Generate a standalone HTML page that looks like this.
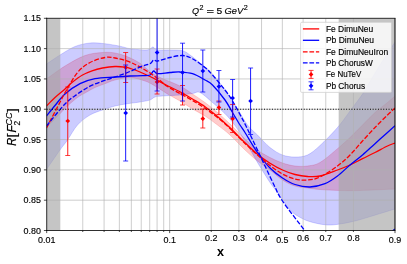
<!DOCTYPE html>
<html><head><meta charset="utf-8"><title>chart</title><style>html,body{margin:0;padding:0;background:#fff;overflow:hidden}body{width:407px;height:264px;position:relative;font-family:"Liberation Sans",sans-serif}</style></head><body>
<svg width="407" height="264" viewBox="0 0 407 264" style="display:block;position:absolute;left:0;top:0" font-family="'Liberation Sans', sans-serif">
<defs><filter id="gs" x="0" y="0" width="407" height="264" filterUnits="userSpaceOnUse" color-interpolation-filters="sRGB"><feColorMatrix type="saturate" values="0"/></filter><clipPath id="ax"><rect x="46.70" y="18.30" width="348.30" height="212.20"/></clipPath></defs>
<rect width="407" height="264" fill="#fff"/>
<g clip-path="url(#ax)">
<path d="M46.50,79.00 C49.58,76.83 58.58,69.92 65.00,66.00 C71.42,62.08 78.75,57.75 85.00,55.50 C91.25,53.25 97.50,52.92 102.50,52.50 C107.50,52.08 110.83,52.28 115.00,53.00 C119.17,53.72 123.33,55.08 127.50,56.80 C131.67,58.52 135.42,60.27 140.00,63.30 C144.58,66.33 148.33,71.22 155.00,75.00 C161.67,78.78 173.75,82.83 180.00,86.00 C186.25,89.17 188.33,91.25 192.50,94.00 C196.67,96.75 200.83,99.42 205.00,102.50 C209.17,105.58 213.33,108.92 217.50,112.50 C221.67,116.08 225.42,119.58 230.00,124.00 C234.58,128.42 240.42,134.67 245.00,139.00 C249.58,143.33 253.33,146.92 257.50,150.00 C261.67,153.08 265.83,155.33 270.00,157.50 C274.17,159.67 278.33,161.58 282.50,163.00 C286.67,164.42 290.83,165.50 295.00,166.00 C299.17,166.50 303.33,166.58 307.50,166.00 C311.67,165.42 315.00,165.38 320.00,162.50 C325.00,159.62 332.50,152.87 337.50,148.70 C342.50,144.53 345.83,141.45 350.00,137.50 C354.17,133.55 358.33,129.17 362.50,125.00 C366.67,120.83 370.83,116.25 375.00,112.50 C379.17,108.75 384.17,105.25 387.50,102.50 C390.83,99.75 393.75,97.08 395.00,96.00 L395.00,189.00 C389.17,189.25 369.17,190.25 360.00,190.50 C350.83,190.75 346.67,190.67 340.00,190.50 C333.33,190.33 325.42,189.92 320.00,189.50 C314.58,189.08 311.67,188.58 307.50,188.00 C303.33,187.42 299.17,187.33 295.00,186.00 C290.83,184.67 286.67,182.67 282.50,180.00 C278.33,177.33 274.17,173.17 270.00,170.00 C265.83,166.83 261.67,164.33 257.50,161.00 C253.33,157.67 249.58,154.33 245.00,150.00 C240.42,145.67 234.58,139.17 230.00,135.00 C225.42,130.83 221.67,128.17 217.50,125.00 C213.33,121.83 209.17,118.67 205.00,116.00 C200.83,113.33 196.67,111.50 192.50,109.00 C188.33,106.50 184.17,103.50 180.00,101.00 C175.83,98.50 171.67,96.50 167.50,94.00 C163.33,91.50 158.75,88.17 155.00,86.00 C151.25,83.83 149.17,82.42 145.00,81.00 C140.83,79.58 135.00,77.67 130.00,77.50 C125.00,77.33 119.17,78.97 115.00,80.00 C110.83,81.03 108.33,82.45 105.00,83.70 C101.67,84.95 98.33,85.95 95.00,87.50 C91.67,89.05 87.92,91.33 85.00,93.00 C82.08,94.67 80.42,95.33 77.50,97.50 C74.58,99.67 70.42,103.30 67.50,106.00 C64.58,108.70 63.50,110.12 60.00,113.70 C56.50,117.28 48.75,125.20 46.50,127.50 Z" fill="#ff0000" fill-opacity="0.2" stroke="#ff0000" stroke-opacity="0.2" stroke-width="0.80"/>
<path d="M46.50,64.00 C48.75,62.50 55.25,57.92 60.00,55.00 C64.75,52.08 70.00,48.50 75.00,46.50 C80.00,44.50 85.00,43.47 90.00,43.00 C95.00,42.53 100.00,43.17 105.00,43.70 C110.00,44.23 115.83,45.37 120.00,46.20 C124.17,47.03 125.83,48.07 130.00,48.70 C134.17,49.33 141.67,49.95 145.00,50.00 C148.33,50.05 148.67,49.50 150.00,49.00 C151.33,48.50 151.75,46.83 153.00,47.00 C154.25,47.17 154.67,49.50 157.50,50.00 C160.33,50.50 165.83,49.88 170.00,50.00 C174.17,50.12 179.17,49.87 182.50,50.70 C185.83,51.53 186.67,52.62 190.00,55.00 C193.33,57.38 198.75,61.83 202.50,65.00 C206.25,68.17 208.75,69.83 212.50,74.00 C216.25,78.17 220.83,84.22 225.00,90.00 C229.17,95.78 233.75,102.87 237.50,108.70 C241.25,114.53 244.17,120.62 247.50,125.00 C250.83,129.38 253.75,131.25 257.50,135.00 C261.25,138.75 265.83,144.17 270.00,147.50 C274.17,150.83 278.33,153.42 282.50,155.00 C286.67,156.58 290.83,157.00 295.00,157.00 C299.17,157.00 303.33,156.92 307.50,155.00 C311.67,153.08 315.00,150.08 320.00,145.50 C325.00,140.92 332.50,133.25 337.50,127.50 C342.50,121.75 346.25,116.00 350.00,111.00 C353.75,106.00 357.50,101.00 360.00,97.50 C362.50,94.00 361.67,95.42 365.00,90.00 C368.33,84.58 375.00,73.00 380.00,65.00 C385.00,57.00 392.50,45.83 395.00,42.00 L395.00,209.00 C392.83,209.67 388.33,211.08 382.00,213.00 C375.67,214.92 364.00,218.67 357.00,220.50 C350.00,222.33 344.92,223.25 340.00,224.00 C335.08,224.75 331.67,225.17 327.50,225.00 C323.33,224.83 319.17,224.05 315.00,223.00 C310.83,221.95 306.67,220.87 302.50,218.70 C298.33,216.53 294.17,214.37 290.00,210.00 C285.83,205.63 280.83,197.08 277.50,192.50 C274.17,187.92 273.33,187.50 270.00,182.50 C266.67,177.50 261.25,168.75 257.50,162.50 C253.75,156.25 251.25,151.17 247.50,145.00 C243.75,138.83 238.75,130.72 235.00,125.50 C231.25,120.28 228.75,117.53 225.00,113.70 C221.25,109.87 216.67,106.03 212.50,102.50 C208.33,98.97 203.33,94.00 200.00,92.50 C196.67,91.00 195.83,93.08 192.50,93.50 C189.17,93.92 185.00,94.58 180.00,95.00 C175.00,95.42 166.67,95.67 162.50,96.00 C158.33,96.33 157.08,96.33 155.00,97.00 C152.92,97.67 152.50,99.17 150.00,100.00 C147.50,100.83 143.75,101.38 140.00,102.00 C136.25,102.62 131.67,103.03 127.50,103.70 C123.33,104.37 119.17,104.95 115.00,106.00 C110.83,107.05 106.67,108.50 102.50,110.00 C98.33,111.50 94.17,112.50 90.00,115.00 C85.83,117.50 81.25,120.83 77.50,125.00 C73.75,129.17 70.42,135.83 67.50,140.00 C64.58,144.17 63.50,145.08 60.00,150.00 C56.50,154.92 48.75,166.25 46.50,169.50 Z" fill="#0000ff" fill-opacity="0.2" stroke="#0000ff" stroke-opacity="0.2" stroke-width="0.80"/>
<rect x="46.70" y="18.30" width="13.61" height="212.20" fill="#a7a7a7" fill-opacity="0.66"/>
<rect x="338.67" y="18.30" width="56.33" height="212.20" fill="#a7a7a7" fill-opacity="0.66"/>
<path d="M46.70,18.30V230.50M82.76,18.30V230.50M104.08,18.30V230.50M119.36,18.30V230.50M131.34,18.30V230.50M141.24,18.30V230.50M149.69,18.30V230.50M157.09,18.30V230.50M163.69,18.30V230.50M169.66,18.30V230.50M211.24,18.30V230.50M238.88,18.30V230.50M261.54,18.30V230.50M282.33,18.30V230.50M303.12,18.30V230.50M325.78,18.30V230.50M353.42,18.30V230.50M395.00,18.30V230.50M46.70,230.50H395.00M46.70,200.19H395.00M46.70,169.87H395.00M46.70,139.56H395.00M46.70,109.24H395.00M46.70,78.93H395.00M46.70,48.61H395.00M46.70,18.30H395.00" stroke="#b0b0b0" stroke-width="0.62" fill="none"/>
<path d="M46.50,106.00 C47.92,104.58 51.92,100.33 55.00,97.50 C58.08,94.67 62.17,91.50 65.00,89.00 C67.83,86.50 69.08,84.83 72.00,82.50 C74.92,80.17 79.17,76.95 82.50,75.00 C85.83,73.05 88.67,71.97 92.00,70.80 C95.33,69.63 98.67,68.72 102.50,68.00 C106.33,67.28 111.25,66.63 115.00,66.50 C118.75,66.37 122.17,66.78 125.00,67.20 C127.83,67.62 129.50,68.20 132.00,69.00 C134.50,69.80 137.00,70.75 140.00,72.00 C143.00,73.25 147.08,75.12 150.00,76.50 C152.92,77.88 154.50,78.72 157.50,80.30 C160.50,81.88 164.25,84.08 168.00,86.00 C171.75,87.92 175.92,89.63 180.00,91.80 C184.08,93.97 188.33,96.52 192.50,99.00 C196.67,101.48 200.83,103.78 205.00,106.70 C209.17,109.62 213.33,112.98 217.50,116.50 C221.67,120.02 225.42,123.42 230.00,127.80 C234.58,132.18 240.42,138.40 245.00,142.80 C249.58,147.20 253.33,150.80 257.50,154.20 C261.67,157.60 265.83,160.57 270.00,163.20 C274.17,165.83 278.33,168.12 282.50,170.00 C286.67,171.88 290.83,173.42 295.00,174.50 C299.17,175.58 303.33,176.25 307.50,176.50 C311.67,176.75 315.00,177.08 320.00,176.00 C325.00,174.92 332.50,171.83 337.50,170.00 C342.50,168.17 345.83,166.88 350.00,165.00 C354.17,163.12 358.33,160.78 362.50,158.70 C366.67,156.62 370.83,154.62 375.00,152.50 C379.17,150.38 384.17,147.58 387.50,146.00 C390.83,144.42 393.75,143.50 395.00,143.00" stroke="#ff0000" stroke-width="1.30" fill="none"/>
<path d="M46.50,116.00 C47.92,114.25 51.92,109.17 55.00,105.50 C58.08,101.83 60.83,97.63 65.00,94.00 C69.17,90.37 75.00,86.25 80.00,83.70 C85.00,81.15 89.17,79.82 95.00,78.70 C100.83,77.58 109.17,77.45 115.00,77.00 C120.83,76.55 125.42,76.22 130.00,76.00 C134.58,75.78 139.17,75.87 142.50,75.70 C145.83,75.53 148.13,75.78 150.00,75.00 C151.87,74.22 152.45,71.22 153.70,71.00 C154.95,70.78 154.78,73.45 157.50,73.70 C160.22,73.95 166.25,72.78 170.00,72.50 C173.75,72.22 176.25,71.80 180.00,72.00 C183.75,72.20 188.33,72.37 192.50,73.70 C196.67,75.03 201.67,78.12 205.00,80.00 C208.33,81.88 209.17,81.67 212.50,85.00 C215.83,88.33 221.67,95.42 225.00,100.00 C228.33,104.58 230.00,108.33 232.50,112.50 C235.00,116.67 237.92,121.67 240.00,125.00 C242.08,128.33 242.08,127.92 245.00,132.50 C247.92,137.08 253.33,146.58 257.50,152.50 C261.67,158.42 265.83,163.75 270.00,168.00 C274.17,172.25 278.33,175.25 282.50,178.00 C286.67,180.75 290.42,183.00 295.00,184.50 C299.58,186.00 305.00,187.13 310.00,187.00 C315.00,186.87 320.42,185.53 325.00,183.70 C329.58,181.87 333.33,179.12 337.50,176.00 C341.67,172.88 345.83,168.50 350.00,165.00 C354.17,161.50 358.33,158.55 362.50,155.00 C366.67,151.45 370.83,147.45 375.00,143.70 C379.17,139.95 384.17,135.50 387.50,132.50 C390.83,129.50 393.75,126.83 395.00,125.70" stroke="#0000ff" stroke-width="1.30" fill="none"/>
<path d="M46.50,128.00 C48.42,124.33 54.75,112.17 58.00,106.00 C61.25,99.83 62.75,96.58 66.00,91.00 C69.25,85.42 73.50,77.25 77.50,72.50 C81.50,67.75 85.42,65.00 90.00,62.50 C94.58,60.00 100.83,58.25 105.00,57.50 C109.17,56.75 111.25,57.38 115.00,58.00 C118.75,58.62 123.33,59.70 127.50,61.20 C131.67,62.70 135.42,64.45 140.00,67.00 C144.58,69.55 150.42,73.25 155.00,76.50 C159.58,79.75 163.33,83.67 167.50,86.50 C171.67,89.33 175.83,91.17 180.00,93.50 C184.17,95.83 188.33,98.03 192.50,100.50 C196.67,102.97 200.83,105.47 205.00,108.30 C209.17,111.13 213.33,114.13 217.50,117.50 C221.67,120.87 225.42,124.17 230.00,128.50 C234.58,132.83 240.42,139.08 245.00,143.50 C249.58,147.92 253.33,151.33 257.50,155.00 C261.67,158.67 265.83,162.33 270.00,165.50 C274.17,168.67 278.33,171.75 282.50,174.00 C286.67,176.25 290.83,178.00 295.00,179.00 C299.17,180.00 303.33,180.33 307.50,180.00 C311.67,179.67 315.00,179.33 320.00,177.00 C325.00,174.67 332.50,169.67 337.50,166.00 C342.50,162.33 345.83,159.17 350.00,155.00 C354.17,150.83 358.33,145.58 362.50,141.00 C366.67,136.42 370.83,131.83 375.00,127.50 C379.17,123.17 384.17,118.25 387.50,115.00 C390.83,111.75 393.75,109.17 395.00,108.00" stroke="#ff0000" stroke-width="1.30" fill="none" stroke-dasharray="4.7,1.8"/>
<path d="M46.50,126.00 C49.58,122.33 59.83,109.33 65.00,104.00 C70.17,98.67 73.33,96.97 77.50,94.00 C81.67,91.03 85.83,88.33 90.00,86.20 C94.17,84.07 98.33,82.73 102.50,81.20 C106.67,79.67 110.83,78.45 115.00,77.00 C119.17,75.55 122.92,74.33 127.50,72.50 C132.08,70.67 138.75,67.47 142.50,66.00 C146.25,64.53 148.13,64.70 150.00,63.70 C151.87,62.70 152.45,60.45 153.70,60.00 C154.95,59.55 154.78,61.42 157.50,61.00 C160.22,60.58 165.83,58.42 170.00,57.50 C174.17,56.58 178.75,55.30 182.50,55.50 C186.25,55.70 188.75,56.70 192.50,58.70 C196.25,60.70 201.67,64.78 205.00,67.50 C208.33,70.22 209.17,71.25 212.50,75.00 C215.83,78.75 221.67,85.67 225.00,90.00 C228.33,94.33 230.00,96.92 232.50,101.00 C235.00,105.08 237.75,110.33 240.00,114.50 C242.25,118.67 243.08,120.08 246.00,126.00 C248.92,131.92 252.83,140.17 257.50,150.00 C262.17,159.83 269.83,176.50 274.00,185.00 C278.17,193.50 277.33,193.33 282.50,201.00 C287.67,208.67 300.42,224.83 305.00,231.00 C309.58,237.17 309.17,236.83 310.00,238.00" stroke="#0000ff" stroke-width="1.30" fill="none" stroke-dasharray="4.7,1.8"/>
<path d="M46.70,109.24H395.00" stroke="#000" stroke-width="1.0" stroke-dasharray="1,1.65" fill="none"/>
<path d="M394.3,228.6L396.9,231.2L394.3,233.8L391.7,231.2Z" fill="#0000c8"/>
<path d="M67.75,87.00V155.50" stroke="#ff0000" stroke-width="0.90" fill="none"/><path d="M65.25,87.00H70.25 M65.25,155.50H70.25" stroke="#ff0000" stroke-width="0.75" fill="none"/><path d="M67.75,118.65L70.10,121.00L67.75,123.35L65.40,121.00Z" fill="#ff0000"/>
<path d="M125.67,52.50V82.50" stroke="#ff0000" stroke-width="0.90" fill="none"/><path d="M123.17,52.50H128.17 M123.17,82.50H128.17" stroke="#ff0000" stroke-width="0.75" fill="none"/><path d="M125.67,65.15L128.02,67.50L125.67,69.85L123.32,67.50Z" fill="#ff0000"/>
<path d="M157.09,69.00V94.00" stroke="#ff0000" stroke-width="0.90" fill="none"/><path d="M154.59,69.00H159.59 M154.59,94.00H159.59" stroke="#ff0000" stroke-width="0.75" fill="none"/><path d="M157.09,79.65L159.44,82.00L157.09,84.35L154.74,82.00Z" fill="#ff0000"/>
<path d="M182.55,85.50V105.00" stroke="#ff0000" stroke-width="0.90" fill="none"/><path d="M180.05,85.50H185.05 M180.05,105.00H185.05" stroke="#ff0000" stroke-width="0.75" fill="none"/><path d="M182.55,91.65L184.90,94.00L182.55,96.35L180.20,94.00Z" fill="#ff0000"/>
<path d="M202.82,109.00V128.00" stroke="#ff0000" stroke-width="0.90" fill="none"/><path d="M200.32,109.00H205.32 M200.32,128.00H205.32" stroke="#ff0000" stroke-width="0.75" fill="none"/><path d="M202.82,116.35L205.17,118.70L202.82,121.05L200.47,118.70Z" fill="#ff0000"/>
<path d="M218.91,101.00V114.50" stroke="#ff0000" stroke-width="0.90" fill="none"/><path d="M216.41,101.00H221.41 M216.41,114.50H221.41" stroke="#ff0000" stroke-width="0.75" fill="none"/><path d="M218.91,105.15L221.26,107.50L218.91,109.85L216.56,107.50Z" fill="#ff0000"/>
<path d="M232.62,104.50V132.50" stroke="#ff0000" stroke-width="0.90" fill="none"/><path d="M230.12,104.50H235.12 M230.12,132.50H235.12" stroke="#ff0000" stroke-width="0.75" fill="none"/><path d="M232.62,116.35L234.97,118.70L232.62,121.05L230.27,118.70Z" fill="#ff0000"/>
<path d="M125.67,65.00V161.00" stroke="#0000ff" stroke-width="0.90" fill="none"/><path d="M123.17,65.00H128.17 M123.17,161.00H128.17" stroke="#0000ff" stroke-width="0.75" fill="none"/><path d="M125.67,110.65L128.02,113.00L125.67,115.35L123.32,113.00Z" fill="#0000ff"/>
<path d="M157.09,5.00V91.00" stroke="#0000ff" stroke-width="0.90" fill="none"/><path d="M154.59,5.00H159.59 M154.59,91.00H159.59" stroke="#0000ff" stroke-width="0.75" fill="none"/><path d="M157.09,50.15L159.44,52.50L157.09,54.85L154.74,52.50Z" fill="#0000ff"/>
<path d="M182.55,43.20V101.00" stroke="#0000ff" stroke-width="0.90" fill="none"/><path d="M180.05,43.20H185.05 M180.05,101.00H185.05" stroke="#0000ff" stroke-width="0.75" fill="none"/><path d="M182.55,70.15L184.90,72.50L182.55,74.85L180.20,72.50Z" fill="#0000ff"/>
<path d="M202.82,50.00V92.00" stroke="#0000ff" stroke-width="0.90" fill="none"/><path d="M200.32,50.00H205.32 M200.32,92.00H205.32" stroke="#0000ff" stroke-width="0.75" fill="none"/><path d="M202.82,68.65L205.17,71.00L202.82,73.35L200.47,71.00Z" fill="#0000ff"/>
<path d="M218.91,70.50V102.00" stroke="#0000ff" stroke-width="0.90" fill="none"/><path d="M216.41,70.50H221.41 M216.41,102.00H221.41" stroke="#0000ff" stroke-width="0.75" fill="none"/><path d="M218.91,84.15L221.26,86.50L218.91,88.85L216.56,86.50Z" fill="#0000ff"/>
<path d="M232.62,79.50V117.00" stroke="#0000ff" stroke-width="0.90" fill="none"/><path d="M230.12,79.50H235.12 M230.12,117.00H235.12" stroke="#0000ff" stroke-width="0.75" fill="none"/><path d="M232.62,95.65L234.97,98.00L232.62,100.35L230.27,98.00Z" fill="#0000ff"/>
<path d="M250.59,68.00V134.50" stroke="#0000ff" stroke-width="0.90" fill="none"/><path d="M248.09,68.00H253.09 M248.09,134.50H253.09" stroke="#0000ff" stroke-width="0.75" fill="none"/><path d="M250.59,98.65L252.94,101.00L250.59,103.35L248.24,101.00Z" fill="#0000ff"/>
</g>
<path d="M46.70,18.30H395.00 M46.70,230.50H395.00 M46.70,18.30V230.50" stroke="#000" stroke-width="0.8" fill="none" stroke-linecap="square"/>
<path d="M395.00,18.30V230.50" stroke="#000" stroke-width="1.0" fill="none"/>
<path d="M46.70,230.50v2.60M82.76,230.50v1.50M104.08,230.50v1.50M119.36,230.50v1.50M131.34,230.50v1.50M141.24,230.50v1.50M149.69,230.50v1.50M157.09,230.50v1.50M163.69,230.50v1.50M169.66,230.50v2.60M211.24,230.50v1.50M238.88,230.50v1.50M261.54,230.50v1.50M282.33,230.50v2.60M303.12,230.50v1.50M325.78,230.50v1.50M353.42,230.50v1.50M395.00,230.50v2.60M46.70,230.50h-2.8M46.70,200.19h-2.8M46.70,169.87h-2.8M46.70,139.56h-2.8M46.70,109.24h-2.8M46.70,78.93h-2.8M46.70,48.61h-2.8M46.70,18.30h-2.8" stroke="#000" stroke-width="0.7" fill="none"/>
<g filter="url(#gs)">
<text x="46.70" y="243.00" font-size="8.30" text-anchor="middle" textLength="17.37" lengthAdjust="spacingAndGlyphs" stroke="#000" stroke-width="0.15" >0.01</text>
<text x="169.66" y="243.00" font-size="8.30" text-anchor="middle" textLength="12.41" lengthAdjust="spacingAndGlyphs" stroke="#000" stroke-width="0.15" >0.1</text>
<text x="211.24" y="241.10" font-size="8.30" text-anchor="middle" textLength="12.41" lengthAdjust="spacingAndGlyphs" stroke="#000" stroke-width="0.15" >0.2</text>
<text x="238.88" y="241.10" font-size="8.30" text-anchor="middle" textLength="12.41" lengthAdjust="spacingAndGlyphs" stroke="#000" stroke-width="0.15" >0.3</text>
<text x="261.54" y="241.10" font-size="8.30" text-anchor="middle" textLength="12.41" lengthAdjust="spacingAndGlyphs" stroke="#000" stroke-width="0.15" >0.4</text>
<text x="282.33" y="243.00" font-size="8.30" text-anchor="middle" textLength="12.41" lengthAdjust="spacingAndGlyphs" stroke="#000" stroke-width="0.15" >0.5</text>
<text x="303.12" y="241.10" font-size="8.30" text-anchor="middle" textLength="12.41" lengthAdjust="spacingAndGlyphs" stroke="#000" stroke-width="0.15" >0.6</text>
<text x="325.78" y="241.10" font-size="8.30" text-anchor="middle" textLength="12.41" lengthAdjust="spacingAndGlyphs" stroke="#000" stroke-width="0.15" >0.7</text>
<text x="353.42" y="241.10" font-size="8.30" text-anchor="middle" textLength="12.41" lengthAdjust="spacingAndGlyphs" stroke="#000" stroke-width="0.15" >0.8</text>
<text x="395.00" y="243.00" font-size="8.30" text-anchor="middle" textLength="12.41" lengthAdjust="spacingAndGlyphs" stroke="#000" stroke-width="0.15" >0.9</text>
<text x="40.90" y="233.50" font-size="8.30" text-anchor="end" textLength="17.37" lengthAdjust="spacingAndGlyphs" stroke="#000" stroke-width="0.15" >0.80</text>
<text x="40.90" y="203.19" font-size="8.30" text-anchor="end" textLength="17.37" lengthAdjust="spacingAndGlyphs" stroke="#000" stroke-width="0.15" >0.85</text>
<text x="40.90" y="172.87" font-size="8.30" text-anchor="end" textLength="17.37" lengthAdjust="spacingAndGlyphs" stroke="#000" stroke-width="0.15" >0.90</text>
<text x="40.90" y="142.56" font-size="8.30" text-anchor="end" textLength="17.37" lengthAdjust="spacingAndGlyphs" stroke="#000" stroke-width="0.15" >0.95</text>
<text x="40.90" y="112.24" font-size="8.30" text-anchor="end" textLength="17.37" lengthAdjust="spacingAndGlyphs" stroke="#000" stroke-width="0.15" >1.00</text>
<text x="40.90" y="81.93" font-size="8.30" text-anchor="end" textLength="17.37" lengthAdjust="spacingAndGlyphs" stroke="#000" stroke-width="0.15" >1.05</text>
<text x="40.90" y="51.61" font-size="8.30" text-anchor="end" textLength="17.37" lengthAdjust="spacingAndGlyphs" stroke="#000" stroke-width="0.15" >1.10</text>
<text x="40.90" y="21.30" font-size="8.30" text-anchor="end" textLength="17.37" lengthAdjust="spacingAndGlyphs" stroke="#000" stroke-width="0.15" >1.15</text>
<text x="192.00" y="13.80" font-size="9.00" textLength="7.08" lengthAdjust="spacingAndGlyphs" stroke="#000" stroke-width="0.15" font-style="italic">Q</text><text x="199.60" y="10.40" font-size="6.30" textLength="4.00" lengthAdjust="spacingAndGlyphs" stroke="#000" stroke-width="0.15" >2</text><text x="206.50" y="13.80" font-size="9.00" textLength="7.54" lengthAdjust="spacingAndGlyphs" stroke="#000" stroke-width="0.15" >=</text><text x="216.60" y="13.80" font-size="9.00" textLength="5.73" lengthAdjust="spacingAndGlyphs" stroke="#000" stroke-width="0.15" >5</text><text x="224.60" y="13.80" font-size="9.00" textLength="18.67" lengthAdjust="spacingAndGlyphs" stroke="#000" stroke-width="0.15" font-style="italic">GeV</text><text x="243.70" y="10.40" font-size="6.30" textLength="4.00" lengthAdjust="spacingAndGlyphs" stroke="#000" stroke-width="0.15" >2</text>
<text x="220.6" y="255.8" font-size="12.6" font-weight="bold" text-anchor="middle">x</text>
<g transform="translate(16.3,145.0) rotate(-90)"><text x="-0.70" y="0.00" font-size="12.00" textLength="8.00" lengthAdjust="spacingAndGlyphs" stroke="#000" stroke-width="0.15" font-style="italic">R</text><text x="7.60" y="0.00" font-size="12.00" textLength="4.20" lengthAdjust="spacingAndGlyphs" stroke="#000" stroke-width="0.15" >[</text><text x="12.60" y="0.00" font-size="12.00" stroke="#000" stroke-width="0.15" font-style="italic">F</text><text x="19.60" y="3.30" font-size="8.40" stroke="#000" stroke-width="0.15" >2</text><text x="19.50" y="-4.50" font-size="8.40" textLength="12.90" lengthAdjust="spacingAndGlyphs" stroke="#000" stroke-width="0.15" font-style="italic">CC</text><text x="32.80" y="0.00" font-size="12.00" textLength="4.20" lengthAdjust="spacingAndGlyphs" stroke="#000" stroke-width="0.15" >]</text></g>
</g>
<rect x="300.60" y="22.30" width="90.90" height="70.10" rx="1.2" fill="#fff" fill-opacity="0.8" stroke="#ccc" stroke-width="0.7"/>
<path d="M302.90,28.90H319.20" stroke="#ff0000" stroke-width="1.30"/>
<path d="M302.90,40.30H319.20" stroke="#0000ff" stroke-width="1.30"/>
<path d="M302.90,51.80H319.20" stroke="#ff0000" stroke-width="1.30" stroke-dasharray="4.7,1.8"/>
<path d="M302.90,62.90H319.20" stroke="#0000ff" stroke-width="1.30" stroke-dasharray="4.7,1.8"/>
<path d="M311.05,70.40V78.40" stroke="#ff0000" stroke-width="0.90" fill="none"/><path d="M308.55,70.40H313.55 M308.55,78.40H313.55" stroke="#ff0000" stroke-width="0.75" fill="none"/><path d="M311.05,72.05L313.40,74.40L311.05,76.75L308.70,74.40Z" fill="#ff0000"/>
<path d="M311.05,81.80V89.80" stroke="#0000ff" stroke-width="0.90" fill="none"/><path d="M308.55,81.80H313.55 M308.55,89.80H313.55" stroke="#0000ff" stroke-width="0.75" fill="none"/><path d="M311.05,83.45L313.40,85.80L311.05,88.15L308.70,85.80Z" fill="#0000ff"/>
<g filter="url(#gs)"><text x="325.90" y="31.70" font-size="8.20" text-anchor="start" textLength="47.32" lengthAdjust="spacingAndGlyphs" stroke="#000" stroke-width="0.15" >Fe DimuNeu</text><text x="325.90" y="43.10" font-size="8.20" text-anchor="start" textLength="48.11" lengthAdjust="spacingAndGlyphs" stroke="#000" stroke-width="0.15" >Pb DimuNeu</text><text x="325.90" y="54.60" font-size="8.20" text-anchor="start" textLength="62.27" lengthAdjust="spacingAndGlyphs" stroke="#000" stroke-width="0.15" >Fe DimuNeuIron</text><text x="325.90" y="65.70" font-size="8.20" text-anchor="start" textLength="46.91" lengthAdjust="spacingAndGlyphs" stroke="#000" stroke-width="0.15" >Pb ChorusW</text><text x="325.90" y="77.20" font-size="8.20" text-anchor="start" textLength="35.46" lengthAdjust="spacingAndGlyphs" stroke="#000" stroke-width="0.15" >Fe NuTeV</text><text x="325.90" y="88.60" font-size="8.20" text-anchor="start" textLength="39.25" lengthAdjust="spacingAndGlyphs" stroke="#000" stroke-width="0.15" >Pb Chorus</text></g>
</svg>
</body></html>
